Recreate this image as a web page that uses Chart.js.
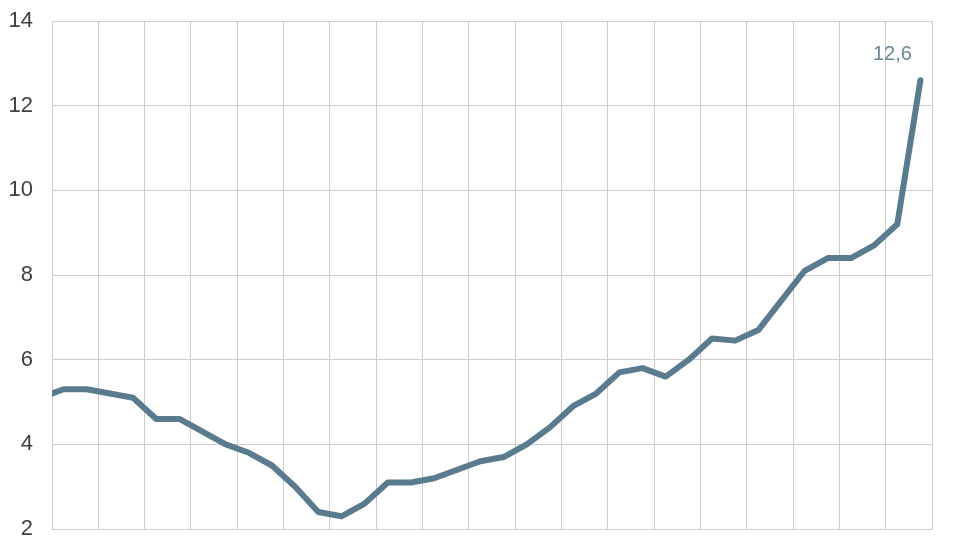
<!DOCTYPE html>
<html>
<head>
<meta charset="utf-8">
<script src="https://cdn.jsdelivr.net/npm/chart.js@4.4.1/dist/chart.umd.min.js"></script>
<style>
  html, body { margin: 0; padding: 0; background: #ffffff; }
  #wrap { width: 966px; height: 544px; position: relative; }
</style>
</head>
<body>
<div id="wrap"><canvas id="myChart"></canvas></div>
<script>
// monthly values, first one sits just left of the plot and gets clipped
var values = [5.1, 5.3, 5.3, 5.2, 5.1, 4.6, 4.6, 4.3, 4.0, 3.8, 3.5, 3.0, 2.4, 2.3, 2.6, 3.1, 3.1, 3.2, 3.4,
    3.6, 3.7, 4.0, 4.4, 4.9, 5.2, 5.7, 5.8, 5.6, 6.0, 6.5, 6.45, 6.7, 7.4, 8.1, 8.4, 8.4, 8.7, 9.2, 12.6];
var yTicks = [2, 4, 6, 8, 10, 12, 14];
var lastLabel = "12,6";

var points = [];
for (var i = 0; i < values.length; i++) {
    points.push({ x: i, y: values[i] });
}

var lineColor = "#5a7b8e";
var gridColor = "#cccccc";

// writes the value of the last point above it
var lastValuePlugin = {
    id: "lastValue",
    afterDatasetsDraw: function (chart) {
        var meta = chart.getDatasetMeta(0);
        var pt = meta.data[meta.data.length - 1];
        var ctx = chart.ctx;
        ctx.save();
        ctx.font = "20px 'Liberation Sans', Arial, sans-serif";
        ctx.fillStyle = "#6a8798";
        ctx.textAlign = "center";
        ctx.textBaseline = "middle";
        ctx.fillText(lastLabel, pt.x - 28, pt.y - 26);
        ctx.restore();
    }
};

new Chart("myChart", {
    type: "line",
    data: {
        datasets: [{
            data: points,
            borderColor: lineColor,
            borderWidth: 6,
            borderCapStyle: "round",
            borderJoinStyle: "round",
            pointRadius: 0,
            tension: 0,
            fill: false
        }]
    },
    options: {
        responsive: true,
        maintainAspectRatio: false,
        animation: false,
        layout: { padding: { top: 21, right: 34, bottom: 15, left: 8 } },
        plugins: {
            legend: { display: false },
            tooltip: { enabled: false }
        },
        scales: {
            x: {
                type: "linear",
                min: 0.5,
                max: 38.5,
                ticks: { display: false, stepSize: 2 },
                grid: { color: gridColor, lineWidth: 1, drawTicks: false },
                border: { display: true, color: gridColor }
            },
            y: {
                min: 2,
                max: 14,
                afterBuildTicks: function (axis) {
                    axis.ticks = yTicks.map(function (v) { return { value: v }; });
                },
                afterFit: function (axis) {
                    axis.width = 44;
                    axis.paddingTop = 0;
                    axis.paddingBottom = 0;
                },
                ticks: {
                    padding: 19,
                    color: "#404040",
                    font: { family: "'Liberation Sans', Arial, sans-serif", size: 22 }
                },
                grid: { color: gridColor, lineWidth: 1, drawTicks: false },
                border: { display: true, color: gridColor }
            }
        }
    },
    plugins: [lastValuePlugin]
});
</script>
</body>
</html>
